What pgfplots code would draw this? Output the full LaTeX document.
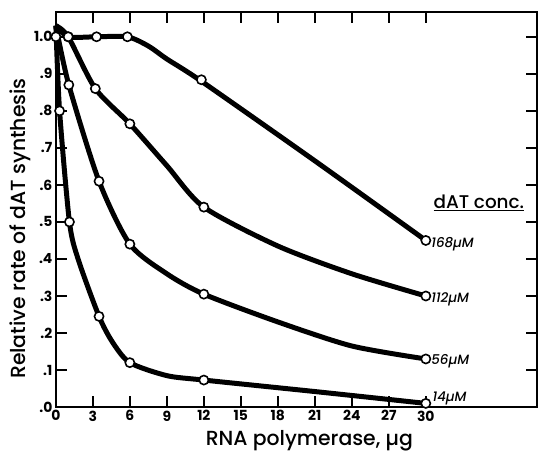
\documentclass[border=0pt]{standalone}
\usepackage{fontspec}
\setmainfont{Poppins}
\newfontfamily\pmed{Poppins Medium}
\usepackage{pgfplots}
\pgfplotsset{compat=1.18}

\pgfplotsset{
  curve/.style={black, line width=5bp, smooth, tension=0.45, no marks},
  dots/.style={only marks, mark=*, mark size=4.6bp,
    mark options={fill=white, draw=black, line width=1.6bp}},
}
\tikzset{lab/.style={anchor=west, font=\fontsize{13.5}{13.5}\selectfont\pmed\itshape, inner sep=1bp}}

\begin{document}
\begin{tikzpicture}
\begin{axis}[
  scale only axis,
  width=482bp, height=396bp,
  xmin=0, xmax=39, ymin=0, ymax=1.067,
  xtick={0,3,6,9,12,15,18,21,24,27,30},
  ytick={0,0.1,0.2,0.3,0.4,0.5,0.6,0.7,0.8,0.9,1.0},
  yticklabels={.0,.1,.2,.3,.4,.5,.6,.7,.8,.9,1.0},
  tick align=inside, tick pos=both,
  major tick length=11bp,
  every tick/.style={line width=1.6bp, black},
  axis line style={line width=2.4bp},
  ticklabel style={font=\fontsize{14}{14}\selectfont\bfseries},
  /pgf/number format/assume math mode=true,
  xlabel={RNA polymerase, µg},
  ylabel={Relative rate of dAT synthesis},
  label style={font=\fontsize{20.5}{20.5}\selectfont\pmed},
  xlabel style={at={(axis description cs:0.527,-0.098)}, anchor=base},
  ylabel style={at={(axis description cs:-0.064,0.452)}, anchor=base, rotate=0},
  clip=false,
]
% 14 uM
\addplot[curve] coordinates {(0,1.03) (0.3,0.80) (1.1,0.50) (1.8,0.40) (3.5,0.245) (4.6,0.175) (6,0.12) (9,0.085) (12,0.073) (21,0.042) (30,0.01)};
\addplot[dots] coordinates {(0.3,0.80) (1.1,0.50) (3.5,0.245) (6,0.12) (12,0.073) (30,0.01)};
% 56 uM
\addplot[curve] coordinates {(0,1.03) (1.05,0.87) (3.5,0.61) (6,0.44) (9,0.36) (12,0.305) (18,0.23) (24,0.165) (30,0.13)};
\addplot[dots] coordinates {(1.05,0.87) (3.5,0.61) (6,0.44) (12,0.305) (30,0.13)};
% 112 uM
\addplot[curve] coordinates {(0,1.03) (1,1.0) (3.2,0.86) (6,0.765) (9,0.652) (12,0.54) (18,0.435) (24,0.36) (30,0.30)};
\addplot[dots] coordinates {(1,1.0) (3.2,0.86) (6,0.765) (12,0.54) (30,0.30)};
% 168 uM
\addplot[curve] coordinates {(0,1.03) (1,1.0) (3.3,1.0) (5.8,1.0) (7.5,0.975) (9,0.94) (11.8,0.88) (21,0.665) (30,0.45)};
\addplot[dots] coordinates {(0,1.0) (1,1.0) (3.3,1.0) (5.8,1.0) (11.8,0.884) (30,0.45)};

\node[lab] at (axis cs:30.35,0.44) {168µM};
\node[lab] at (axis cs:30.35,0.29) {112µM};
\node[lab] at (axis cs:30.35,0.125) {56µM};
\node[lab, anchor=base west] at (axis cs:30.45,0.015) {14µM};
\node[anchor=base, font=\fontsize{18.5}{18.5}\selectfont\pmed, inner sep=0pt] at (axis cs:34.3,0.536) {\underline{dAT conc.}};

\path (rel axis cs:0,1) ++(-56bp,12bp);
\path (rel axis cs:1,0) ++(0,-44bp);
\end{axis}
\end{tikzpicture}
\end{document}
